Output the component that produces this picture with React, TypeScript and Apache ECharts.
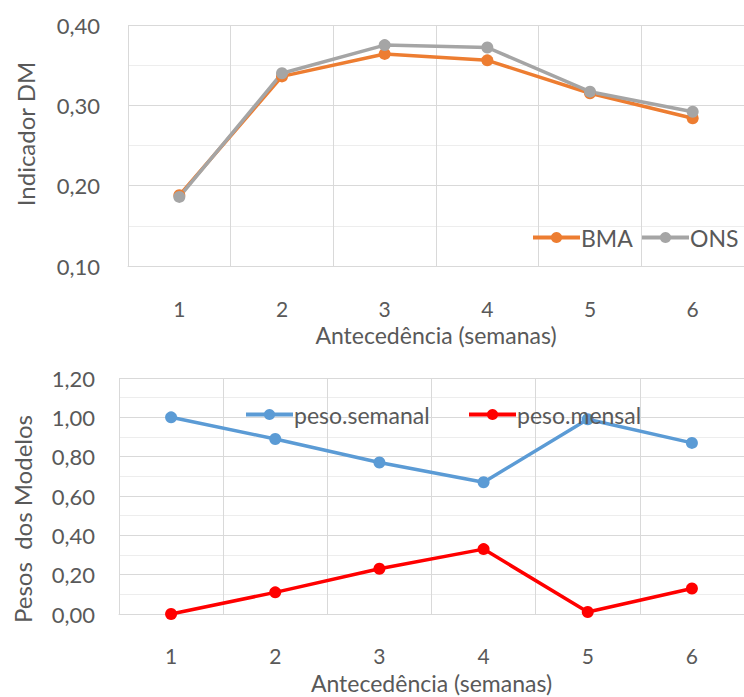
import React, { useEffect, useRef } from "react";
import * as echarts from "echarts";

const weeks = ["1", "2", "3", "4", "5", "6"];
const bmaValues = [0.188, 0.336, 0.364, 0.356, 0.315, 0.284];
const onsValues = [0.186, 0.340, 0.375, 0.372, 0.317, 0.292];
const pesoSemanal = [1.0, 0.89, 0.77, 0.67, 0.99, 0.87];
const pesoMensal = [0.0, 0.11, 0.23, 0.33, 0.01, 0.13];

const FONT = "Lato";
const TXT = "#595959";

export default function App() {
  const ref = useRef<HTMLDivElement>(null);
  useEffect(() => {
    if (!ref.current) return;
    const chart = echarts.init(ref.current, undefined, { renderer: "svg" });
    const fmt = (v: number) => v.toFixed(2).replace(".", ",");
    const catAxis = (gridIndex: number, margin: number, nameGap: number) => ({
      type: "category",
      gridIndex,
      data: weeks,
      boundaryGap: true,
      axisTick: { show: false },
      axisLine: { show: true, lineStyle: { color: "#D9D9D9", width: 1 } },
      axisLabel: { color: TXT, fontSize: 21, lineHeight: 20, fontFamily: FONT, margin },
      splitLine: { show: true, lineStyle: { color: "#D9D9D9", width: 1 } },
      name: "Antecedência (semanas)",
      nameLocation: "middle",
      nameGap,
      nameTextStyle: { color: TXT, fontSize: 23, lineHeight: 22, fontFamily: FONT },
    });
    const valAxis = (gridIndex: number, min: number, max: number, interval: number, margin: number) => ({
      type: "value",
      gridIndex,
      min,
      max,
      interval,
      axisLine: { show: false },
      axisTick: { show: false },
      axisLabel: { color: TXT, fontSize: 22, fontFamily: FONT, margin, formatter: fmt },
      splitLine: { show: true, lineStyle: { color: "#D9D9D9", width: 1 } },
      minorTick: { show: false, splitNumber: 2 },
      minorSplitLine: { show: true, lineStyle: { color: "#EDEDED", width: 1 } },
    });
    const legendBase = {
      orient: "horizontal",
      itemWidth: 47,
      itemHeight: 14,
      itemGap: 0,
      lineStyle: { width: 4 },
      textStyle: { color: TXT, fontSize: 23, fontFamily: FONT, padding: [0, 0, 0, -4] },
    };
    const lineSeries = (name: string, data: number[], color: string, idx: number) => ({
      name,
      type: "line",
      xAxisIndex: idx,
      yAxisIndex: idx,
      data,
      symbol: "circle",
      symbolSize: 12,
      lineStyle: { color, width: 3.5 },
      itemStyle: { color },
    });
    chart.setOption({
      animation: false,
      backgroundColor: "#FFFFFF",
      grid: [
        { left: 128, top: 25, width: 621, height: 241 },
        { left: 119, top: 378, width: 634, height: 236 },
      ],
      xAxis: [catAxis(0, 32, 58), catAxis(1, 31, 58)],
      yAxis: [valAxis(0, 0.1, 0.4, 0.1, 28), valAxis(1, 0, 1.2, 0.2, 24)],
      legend: [
        { ...legendBase, data: ["BMA"], left: 526, top: 221 },
        { ...legendBase, data: ["ONS"], left: 635, top: 221 },
        { ...legendBase, data: ["peso.semanal"], left: 239, top: 398 },
        { ...legendBase, data: ["peso.mensal"], left: 462, top: 398 },
      ],
      graphic: [
        {
          type: "text",
          x: 25,
          y: 134,
          rotation: Math.PI / 2,
          style: {
            text: "Indicador DM",
            fill: TXT,
            fontSize: 24,
            fontFamily: FONT,
            textAlign: "center",
            textVerticalAlign: "middle",
          },
        },
        {
          type: "text",
          x: 22,
          y: 519,
          rotation: Math.PI / 2,
          style: {
            text: "Pesos  dos Modelos",
            fill: TXT,
            fontSize: 24,
            fontFamily: FONT,
            textAlign: "center",
            textVerticalAlign: "middle",
          },
        },
      ],
      series: [
        lineSeries("BMA", bmaValues, "#ED7D31", 0),
        lineSeries("ONS", onsValues, "#A5A5A5", 0),
        lineSeries("peso.semanal", pesoSemanal, "#5B9BD5", 1),
        lineSeries("peso.mensal", pesoMensal, "#FF0000", 1),
      ],
    });
    return () => chart.dispose();
  }, []);
  return (
    <div
      ref={ref}
      style={{ position: "fixed", left: 0, top: 0, width: 744, height: 697, background: "#fff" }}
    />
  );
}
